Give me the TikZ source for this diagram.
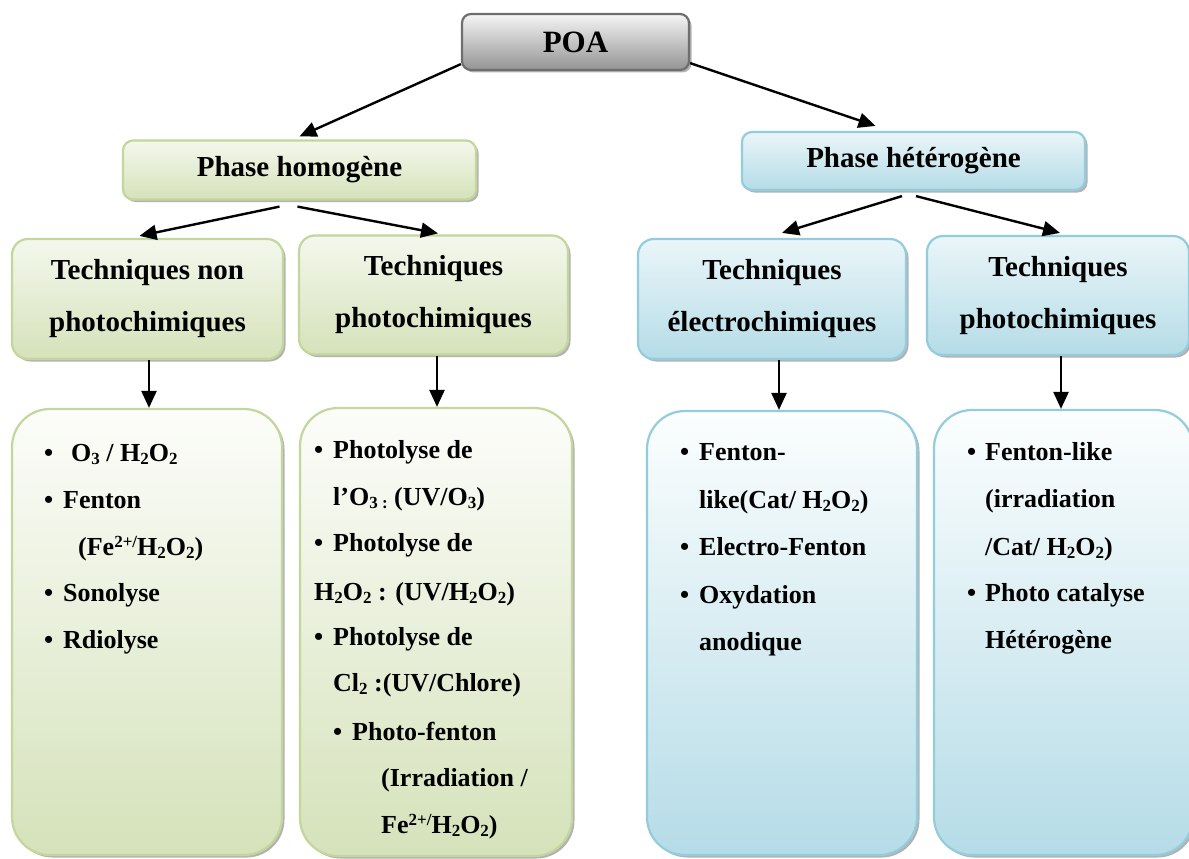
\documentclass[tikz,border=0pt]{standalone}
\usepackage{fontspec}
\usepackage{graphicx}
\setmainfont{Liberation Serif}
\usetikzlibrary{arrows.meta,shadows,calc}
\definecolor{grnB}{HTML}{C3D69B}
\definecolor{grnF}{HTML}{D5E2BA}
\definecolor{grnT}{HTML}{FCFDFA}
\definecolor{bluB}{HTML}{93CDDD}
\definecolor{bluF}{HTML}{B5DCE7}
\definecolor{bluT}{HTML}{FCFEFE}
\definecolor{poaB}{HTML}{6E6E6E}
\newcommand{\bu}[1]{\llap{\textbullet\hspace{#1}}}
\newcommand{\sbs}[1]{\raisebox{-2.5pt}{\fontsize{17}{17}\selectfont #1}}
\newcommand{\sps}[1]{\raisebox{8pt}{\fontsize{17}{17}\selectfont #1}}
\tikzset{
  shad/.style={drop shadow={shadow xshift=2.5pt,shadow yshift=-2.5pt,fill=black,opacity=0.3}},
  poabox/.style={draw=poaB,line width=2.2pt,rounded corners=9pt,top color=white!96!black,bottom color=black!42,shad,
     font=\fontsize{31}{34}\selectfont\bfseries},
  ghead/.style={draw=grnB,line width=2.2pt,rounded corners=10pt,top color=grnT!80!grnF,bottom color=grnF,shad,
     font=\fontsize{29}{32}\selectfont\bfseries},
  bhead/.style={draw=bluB,line width=2.2pt,rounded corners=10pt,top color=bluT!75!bluF,bottom color=bluF,shad,
     font=\fontsize{29}{32}\selectfont\bfseries},
  gtech/.style={ghead,rounded corners=16pt,align=center,font=\fontsize{29}{52}\selectfont\bfseries},
  btech/.style={bhead,rounded corners=16pt,align=center,font=\fontsize{29}{52}\selectfont\bfseries},
  glist/.style={draw=grnB,line width=2.2pt,rounded corners=38pt,top color=grnT,bottom color=grnF,shad},
  blist/.style={draw=bluB,line width=2.2pt,rounded corners=38pt,top color=bluT,bottom color=bluF,shad},
  item/.style={anchor=base west,inner sep=0pt,font=\fontsize{26}{30}\selectfont\bfseries},
  arr/.style={line width=2.4pt,-{Triangle[length=17pt,width=15pt]}},
}
\begin{document}
\begin{tikzpicture}[x=1pt,y=-1pt]
\useasboundingbox (0,0) rectangle (1189,859);
\clip (0,0) rectangle (1189,859);

% boxes
\node[poabox,minimum width=227pt,minimum height=56pt] (poa) at (575.5,42) {POA};
\node[ghead,minimum width=353pt,minimum height=59pt] (ph) at (299.5,170) {Phase homogène};
\node[bhead,minimum width=343pt,minimum height=58pt] (pt) at (913.5,161) {Phase hétérogène};

\node[gtech,minimum width=271pt,minimum height=120pt] (h1) at (147.5,299) {Techniques non\\photochimiques};
\node[gtech,minimum width=269pt,minimum height=119pt] (h2) at (433.5,295) {Techniques\\photochimiques};
\node[btech,minimum width=268pt,minimum height=120pt] (h3) at (772,299) {Techniques\\électrochimiques};
\node[btech,minimum width=262pt,minimum height=119pt] (h4) at (1058,295.5) {Techniques\\photochimiques};

\node[glist,minimum width=270pt,minimum height=446pt] (l1) at (147,632) {};
\node[glist,minimum width=272pt,minimum height=448pt] (l2) at (436,632) {};
\node[blist,minimum width=270pt,minimum height=444pt] (l3) at (782,633) {};
\node[blist,minimum width=259pt,minimum height=445pt] (l4) at (1063.5,632.5) {};

% arrows
\draw[arr] ([yshift=7pt]poa.south west) -- ([yshift=3pt]ph.north);
\draw[arr] ([yshift=8pt]poa.south east) -- ([xshift=-38pt,yshift=5pt]pt.north);
\draw[arr] ([xshift=-20pt,yshift=-6pt]ph.south) -- ([xshift=-8pt,yshift=2pt]h1.north);
\draw[arr] ([xshift=-2pt,yshift=-6pt]ph.south) -- ([xshift=4.5pt,yshift=1pt]h2.north);
\draw[arr] ([xshift=-11.5pt,yshift=-5pt]pt.south) -- ([xshift=10pt,yshift=5pt]h3.north);
\draw[arr] ([xshift=2.5pt,yshift=-5pt]pt.south) -- ([xshift=2pt,yshift=2pt]h4.north);

\draw[arr] ([xshift=2pt]h1.south -| l1.north) -- ([xshift=2pt]l1.north);
\draw[arr] ([xshift=1pt]h2.south -| l2.north) -- ([xshift=1pt]l2.north);
\draw[arr] ([xshift=-3pt]h3.south -| l3.north) -- ([xshift=-3pt]l3.north);
\draw[arr] ([xshift=-2.5pt]h4.south -| l4.north) -- ([xshift=-2.5pt]l4.north);

% list 1
\node[item] (a1) at (71,461.5) {\bu{18pt}O\sbs{3} / H\sbs{2}O\sbs{2}};
\node[item] (a2) at (63,508.5) {\bu{10pt}Fenton};
\node[item] (a3) at (78,555.5) {(Fe\sps{2+/}H\sbs{2}O\sbs{2})};
\node[item] (a4) at (63,601.5) {\bu{10pt}Sonolyse};
\node[item] (a5) at (63,648.5) {\bu{10pt}Rdiolyse};

% list 2
\node[item] (b1) at (333,458.5) {\bu{10pt}Photolyse de};
\node[item] (b2) at (333,505.5) {l’O\sbs{3 :} (UV/O\sbs{3})};
\node[item] (b3) at (333,551.5) {\bu{10pt}Photolyse de};
\node[item] (b4) at (314,600.5) {H\sbs{2}O\sbs{2} : (UV/H\sbs{2}O\sbs{2})};
\node[item] (b5) at (333,645.5) {\bu{10pt}Photolyse de};
\node[item] (b6) at (333,691.5) {Cl\sbs{2} :(UV/Chlore)};
\node[item] (b7) at (352,740.5) {\bu{10pt}Photo-fenton};
\node[item] (b8) at (381,786.5) {(Irradiation /};
\node[item] (b9) at (381,833.5) {Fe\sps{2+/}H\sbs{2}O\sbs{2})};

% list 3
\node[item] (c1) at (699,460.5) {\bu{10pt}Fenton-};
\node[item] (c2) at (699,508.5) {like(Cat/ H\sbs{2}O\sbs{2})};
\node[item] (c3) at (699,555.5) {\bu{10pt}Electro-Fenton};
\node[item] (c4) at (699,603.5) {\bu{10pt}Oxydation};
\node[item] (c5) at (699,650.5) {anodique};

% list 4
\node[item] (d1) at (985,460.5) {\bu{9pt}Fenton-like};
\node[item] (d2) at (985,507.5) {(irradiation};
\node[item] (d3) at (985,555.5) {/Cat/ H\sbs{2}O\sbs{2})};
\node[item] (d4) at (985,601.5) {\bu{9pt}Photo catalyse};
\node[item] (d5) at (985,648.5) {Hétérogène};
\end{tikzpicture}
\end{document}
